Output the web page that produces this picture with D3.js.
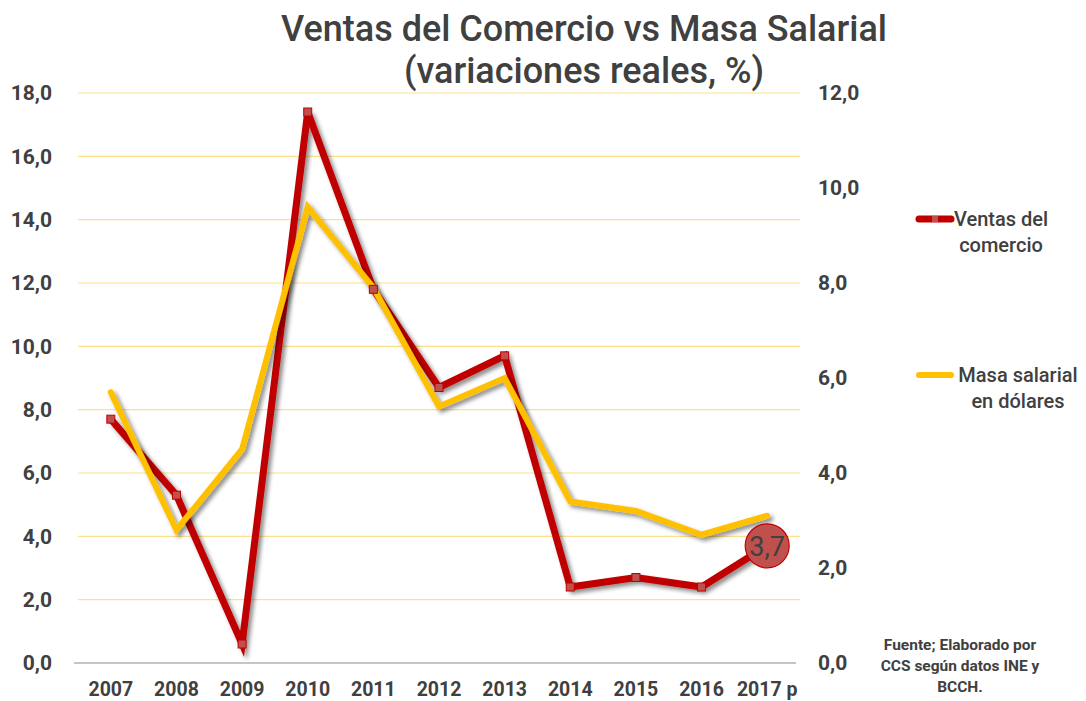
<!DOCTYPE html>
<html>
<head>
<meta charset="utf-8">
<script src="https://cdn.jsdelivr.net/npm/d3@7"></script>
<style>
  html, body { margin: 0; padding: 0; background: #fff; overflow: hidden; }
  svg { display: block; }
  text { font-family: Roboto, "Noto Sans", sans-serif; fill: #404040; }
</style>
</head>
<body>
<div id="chart"></div>
<script>
const years = ["2007", "2008", "2009", "2010", "2011", "2012", "2013", "2014", "2015", "2016", "2017 p"];
const ventas = [7.7, 5.3, 0.6, 17.4, 11.8, 8.7, 9.7, 2.4, 2.7, 2.4, 3.7];
const masaSalarial = [5.7, 2.8, 4.5, 9.6, 7.9, 5.4, 6.0, 3.4, 3.2, 2.7, 3.1];
const leftTicks = [0, 2, 4, 6, 8, 10, 12, 14, 16, 18];
const rightTicks = [0, 2, 4, 6, 8, 10, 12];
const highlight = { index: 10, label: "3,7" };

const width = 1086, height = 701;
const margin = { top: 93, right: 286, bottom: 38, left: 78 };
const innerWidth = width - margin.left - margin.right;
const innerHeight = height - margin.top - margin.bottom;

const fmt = d => d3.format(".1f")(d).replace(".", ",");

const svg = d3.select("#chart")
  .append("svg")
  .attr("width", width)
  .attr("height", height);

const defs = svg.append("defs");
defs.append("filter")
  .attr("id", "shadow")
  .attr("x", "-20%").attr("y", "-20%")
  .attr("width", "140%").attr("height", "140%")
  .append("feDropShadow")
  .attr("dx", 3).attr("dy", 3)
  .attr("stdDeviation", 2)
  .attr("flood-color", "#000")
  .attr("flood-opacity", 0.45);

const xScale = d3.scaleBand().domain(years).range([0, innerWidth]).padding(0);
const xc = d => xScale(d) + xScale.bandwidth() / 2;
const yLeft = d3.scaleLinear().domain([0, 18]).range([innerHeight, 0]);
const yRight = d3.scaleLinear().domain([0, 12]).range([innerHeight, 0]);

const innerChart = svg.append("g")
  .attr("transform", `translate(${margin.left}, ${margin.top})`);

// Gridlines
innerChart.selectAll("line.grid")
  .data(leftTicks.filter(d => d > 0))
  .join("line")
  .attr("class", "grid")
  .attr("x1", 0).attr("x2", innerWidth)
  .attr("y1", d => yLeft(d)).attr("y2", d => yLeft(d))
  .attr("stroke", "#ffe08a")
  .attr("stroke-width", 1.2);

// Baseline
innerChart.append("line")
  .attr("x1", -4).attr("x2", innerWidth - 4)
  .attr("y1", yLeft(0)).attr("y2", yLeft(0))
  .attr("stroke", "#8c8c8c")
  .attr("stroke-width", 1.2);

// Axes
const yAxisLeft = d3.axisLeft(yLeft).tickValues(leftTicks).tickFormat(fmt).tickSize(0).tickPadding(26);
const yAxisRight = d3.axisRight(yRight).tickValues(rightTicks).tickFormat(fmt).tickSize(0).tickPadding(18);
const xAxis = d3.axisBottom(xScale).tickSize(0).tickPadding(19);

const gl = innerChart.append("g").call(yAxisLeft);
const gr = innerChart.append("g").attr("transform", `translate(${innerWidth}, 0)`).call(yAxisRight);
const gx = innerChart.append("g").attr("transform", `translate(0, ${innerHeight})`).call(xAxis);

[gl, gr, gx].forEach(g => {
  g.select(".domain").remove();
  g.attr("font-family", "Roboto, sans-serif")
    .attr("font-weight", "bold")
    .attr("font-size", 21);
  g.selectAll("text").attr("fill", "#404040");
});
gx.attr("font-size", 19.5);
gx.selectAll(".tick").attr("transform", d => `translate(${xc(d)}, 0)`);

// Lines
const lineLeft = d3.line().x((d, i) => xc(years[i])).y(d => yLeft(d));
const lineRight = d3.line().x((d, i) => xc(years[i])).y(d => yRight(d));

innerChart.append("path")
  .datum(ventas)
  .attr("d", lineLeft)
  .attr("fill", "none")
  .attr("stroke", "#c00000")
  .attr("stroke-width", 7)
  .attr("stroke-linejoin", "miter")
  .attr("filter", "url(#shadow)");

innerChart.append("path")
  .datum(masaSalarial)
  .attr("d", lineRight)
  .attr("fill", "none")
  .attr("stroke", "#ffc000")
  .attr("stroke-width", 6)
  .attr("stroke-linecap", "round")
  .attr("stroke-linejoin", "miter")
  .attr("filter", "url(#shadow)");

// Markers on ventas
innerChart.selectAll("rect.marker")
  .data(ventas.filter((d, i) => i !== highlight.index))
  .join("rect")
  .attr("class", "marker")
  .attr("x", (d, i) => xc(years[i]) - 4)
  .attr("y", d => yLeft(d) - 4)
  .attr("width", 8).attr("height", 8)
  .attr("fill", "#c0504d")
  .attr("stroke", "#c00000")
  .attr("stroke-width", 1);

// Highlight bubble
const hx = xc(years[highlight.index]);
const hy = yLeft(ventas[highlight.index]);
innerChart.append("circle")
  .attr("cx", hx).attr("cy", hy).attr("r", 22)
  .attr("fill", "#c0504d")
  .attr("stroke", "#c00000")
  .attr("stroke-width", 1.2);
innerChart.append("text")
  .attr("x", hx).attr("y", hy + 10)
  .attr("text-anchor", "middle")
  .attr("font-size", 27)
  .attr("fill", "#333")
  .text(highlight.label);

// Title
const title = svg.append("text")
  .attr("text-anchor", "middle")
  .attr("font-size", 36)
  .attr("font-weight", 500);
title.append("tspan").attr("x", 584).attr("y", 41).text("Ventas del Comercio vs Masa Salarial");
title.append("tspan").attr("x", 584).attr("y", 83).text("(variaciones reales, %)");

// Legend
const legend = [
  { color: "#c00000", y: 219, lines: ["Ventas del", "comercio"], marker: true, w: 7 },
  { color: "#ffc000", y: 375, lines: ["Masa salarial", "en dólares"], marker: false, w: 6 }
];
legend.forEach(l => {
  svg.append("line")
    .attr("x1", 919).attr("x2", 951)
    .attr("y1", l.y).attr("y2", l.y)
    .attr("stroke", l.color)
    .attr("stroke-width", l.w)
    .attr("stroke-linecap", "round");
  if (l.marker) {
    svg.append("rect")
      .attr("x", 932).attr("y", l.y - 3)
      .attr("width", 6).attr("height", 6)
      .attr("fill", "#c0504d");
  }
  const cx = l.marker ? 1001 : 1018;
  const t = svg.append("text")
    .attr("text-anchor", "middle")
    .attr("font-size", 20)
    .attr("font-weight", 500);
  t.append("tspan").attr("x", cx).attr("y", l.y + 7).text(l.lines[0]);
  t.append("tspan").attr("x", cx).attr("y", l.y + 33).text(l.lines[1]);
});

// Source note
const note = svg.append("text")
  .attr("text-anchor", "middle")
  .attr("font-size", 15.5)
  .attr("font-weight", "bold");
["Fuente; Elaborado por", "CCS según datos INE y", "BCCH."].forEach((s, i) => {
  note.append("tspan").attr("x", 960).attr("y", 650 + i * 21).text(s);
});
</script>
</body>
</html>
